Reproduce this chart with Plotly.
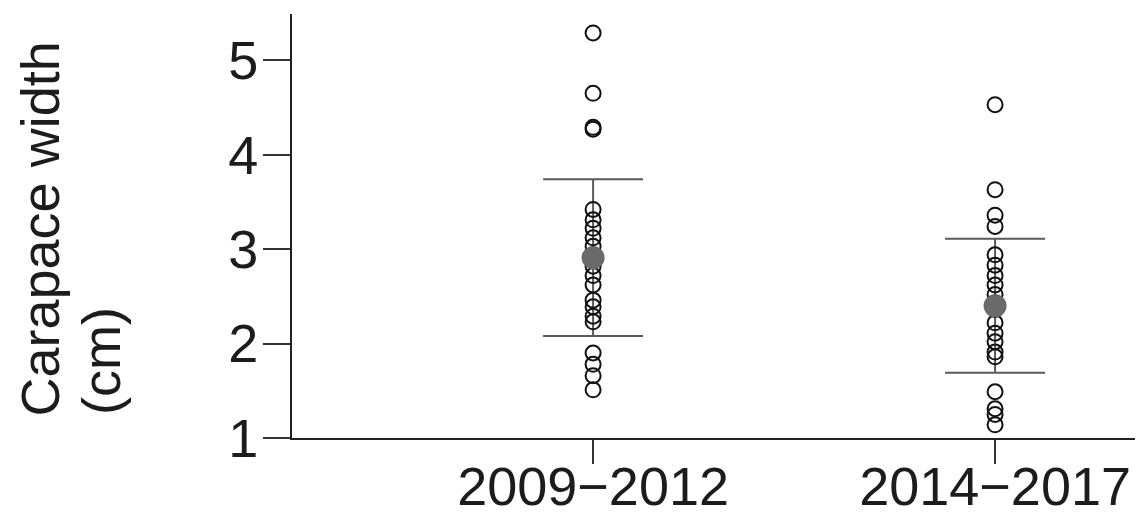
import plotly.graph_objects as go

categories = ["2009\u22122012", "2014\u22122017"]
group1_values = [5.29, 4.65, 4.29, 4.27, 3.42, 3.31, 3.22, 3.12, 3.03, 2.94, 2.82,
                 2.72, 2.62, 2.46, 2.39, 2.29, 2.23, 1.90, 1.78, 1.66, 1.51]
group2_values = [4.53, 3.63, 3.36, 3.24, 2.94, 2.83, 2.72, 2.62, 2.52, 2.43, 2.36,
                 2.22, 2.11, 2.02, 1.91, 1.86, 1.49, 1.31, 1.25, 1.14]
means = [2.91, 2.40]
sds = [0.83, 0.71]
y_ticks = [1, 2, 3, 4, 5]

FONT = "Liberation Sans, Arial, sans-serif"
TXT = "#1c1c1c"

fig = go.Figure()

xpos = [0, 1]
groups = [group1_values, group2_values]

# error bars (mean +/- SD), drawn first so they sit behind the points
fig.add_trace(go.Scatter(
    x=xpos, y=means, mode="markers",
    marker=dict(size=1, color="rgba(0,0,0,0)"),
    error_y=dict(type="data", array=sds, visible=True, color="#5a5a5a",
                 thickness=2, width=50),
    hoverinfo="skip", showlegend=False,
))

for xi, vals in zip(xpos, groups):
    fig.add_trace(go.Scatter(
        x=[xi] * len(vals), y=vals, mode="markers",
        marker=dict(symbol="circle-open", size=15, color="#111111",
                    line=dict(width=2, color="#111111")),
        showlegend=False,
    ))

fig.add_trace(go.Scatter(
    x=xpos, y=means, mode="markers",
    marker=dict(symbol="circle", size=23, color="#6a6a6a",
                line=dict(width=0)),
    showlegend=False,
))

L, T, B = 284, 6, 78
W, H = 1135, 508
PW, PH = W - L, H - T - B

fig.update_layout(
    template="none",
    width=W, height=H,
    margin=dict(l=L, r=0, t=T, b=B, autoexpand=False),
    paper_bgcolor="white", plot_bgcolor="white",
    font=dict(family=FONT, color=TXT, size=54),
    xaxis=dict(
        automargin=False,
        range=[-0.749, 1.368], tickmode="array", tickvals=xpos, ticktext=categories,
        showgrid=False, zeroline=False, showline=True, linecolor="#222222", linewidth=2,
        ticks="outside", ticklen=24, tickwidth=2, tickcolor="#333333",
        ticklabelstandoff=-24,
        tickfont=dict(size=54, family=FONT, color=TXT),
    ),
    yaxis=dict(
        automargin=False,
        range=[1, 5.49], tickmode="array", tickvals=y_ticks,
        ticktext=[str(v) for v in y_ticks],
        showgrid=False, zeroline=False, showline=True, linecolor="#222222", linewidth=2,
        ticks="outside", ticklen=27, tickwidth=2, tickcolor="#333333",
        ticklabelstandoff=-6,
        tickfont=dict(size=54, family=FONT, color=TXT),
    ),
    annotations=[
        dict(text="Carapace width", xref="paper", yref="paper", borderpad=0,
             x=(39 - 292) / PW, y=(438 - 418) / PH, xanchor="center", yanchor="bottom",
             textangle=-90, showarrow=False, font=dict(size=54, family=FONT, color=TXT)),
        dict(text="(cm)", xref="paper", yref="paper", borderpad=0,
             x=(101 - 292) / PW, y=(438 - 416) / PH, xanchor="center", yanchor="bottom",
             textangle=-90, showarrow=False, font=dict(size=54, family=FONT, color=TXT)),
    ],
)

fig.write_html("out.html")
